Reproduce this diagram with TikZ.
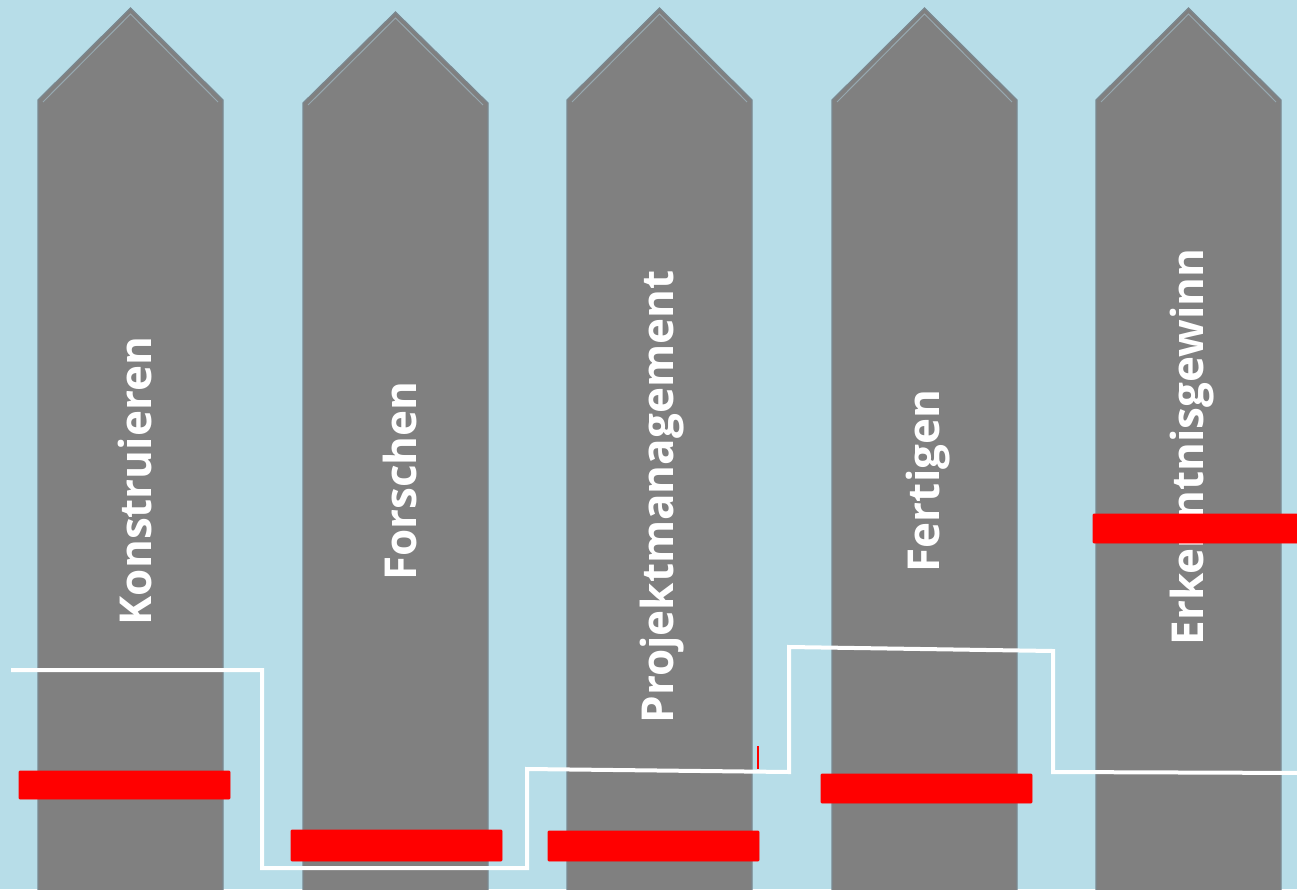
\documentclass[tikz,border=0pt]{standalone}
\usepackage{fontspec}
\setmainfont{Open Sans}
\usetikzlibrary{positioning}
\definecolor{himmel}{RGB}{183,221,232}
\definecolor{pfeilgrau}{RGB}{128,128,128}
\definecolor{kante}{RGB}{122,136,144}
\definecolor{glanz}{RGB}{150,168,176}
\tikzset{
  pfeil/.style={fill=pfeilgrau,draw=kante,line width=1.2pt},
  glanzkante/.style={draw=glanz,line width=1pt},
  titel/.style={rotate=90,text=white,inner sep=0pt,
                font=\fontsize{44}{48}\selectfont\bfseries},
  balken/.style={fill=red,draw=red,line width=0.8pt,rounded corners=1pt},
  stufe/.style={draw=white,line width=4pt,line join=miter},
}

\begin{document}
\begin{tikzpicture}[x=1pt,y=-1pt]
  \clip (0,0) rectangle (1297,889);
  \fill[himmel] (0,0) rectangle (1297,889);

  % Pfeile: linker Rand / Schulter / Spitze
  \foreach \xl/\sy/\ty in {38/100/8, 303/103/12, 567/100/8, 832/100/8, 1096/100/8}{
    \pgfmathsetmacro{\xr}{\xl+185}
    \pgfmathsetmacro{\xm}{\xl+92.5}
    \draw[pfeil] (\xl,900) -- (\xl,\sy) -- (\xm,\ty) -- (\xr,\sy) -- (\xr,900);
    \draw[glanzkante] (\xl+5,\sy+2) -- (\xm,\ty+6) -- (\xr-5,\sy+2);
  }

  \node[titel] (konstruieren) at (135,481) {Konstruieren};
  \node[titel] (forschen)     at (400,481) {Forschen};
  \node[titel] (projekt)      at (662,497) {Projektmanagement};
  \node[titel] (fertigen)     at (928,481) {Fertigen};
  \node[titel] (erkenntnis)   at (1192,447) {Erkenntnisgewinn};

  % rote Balken
  \fill[balken] (19,771) rectangle (230,799);
  \fill[balken] (291,830) rectangle (502,861);
  \fill[balken] (548,831) rectangle (759,861);
  \fill[balken] (821,774) rectangle (1032,803);
  \fill[balken] (1093,514) rectangle (1310,543);
  \draw[red,line width=1.5pt] (758,746) -- (758,769);

  % weisse Stufenlinie
  \draw[stufe] (11,670) -| (262,868) -| (527,769) -- (789,772)
        -- (789,647) -- (1053,651) -- (1053,772) -- (1310,773);
\end{tikzpicture}
\end{document}
